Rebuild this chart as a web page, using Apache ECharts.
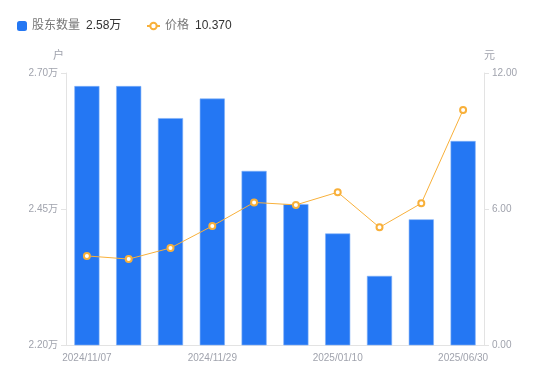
<!DOCTYPE html>
<html><head><meta charset="utf-8">
<script src="https://cdn.jsdelivr.net/npm/echarts@6/dist/echarts.min.js"></script>
<style>html,body{margin:0;padding:0;background:#fff}#c{width:550px;height:381px}</style>
</head><body><div id="c"></div>
<script>
const categories = ['2024/11/07','2024/11/15','2024/11/22','2024/11/29','2024/12/10','2024/12/20','2025/01/10','2025/03/31','2025/04/30','2025/06/30'];
const holders = [2.676, 2.676, 2.617, 2.653, 2.520, 2.459, 2.405, 2.327, 2.431, 2.575];
const prices = [3.93, 3.79, 4.28, 5.25, 6.29, 6.18, 6.74, 5.19, 6.25, 10.37];
const leftTicks = {min: 2.20, max: 2.70, interval: 0.25};
const rightTicks = {min: 0, max: 12, interval: 6};
const legendValues = {'股东数量': '2.58万', '价格': '10.370'};

const font = 'Liberation Sans, Noto Sans CJK SC, sans-serif';
const legendText = {
  rich: {
    n: {color: '#777', fontSize: 12, fontFamily: font},
    v: {color: '#333', fontSize: 12, padding: [0, 0, 0, 6], fontFamily: font}
  }
};
const fmt = n => '{n|' + n + '}{v|' + legendValues[n] + '}';
const chart = echarts.init(document.getElementById('c'));
chart.setOption({
  animation: false,
  textStyle: {fontFamily: font},
  legend: [{
    left: 12, top: 15, itemWidth: 10, itemHeight: 10, itemGap: 5,
    data: [{name: '股东数量', icon: 'roundRect'}],
    itemStyle: {borderWidth: 0},
    formatter: fmt, textStyle: legendText
  }, {
    left: 141, top: 15, itemWidth: 13, itemHeight: 8,
    data: [{name: '价格'}],
    formatter: fmt, textStyle: legendText
  }],
  grid: {left: 66, right: 66, top: 73, bottom: 36},
  xAxis: {
    type: 'category', data: categories,
    axisLine: {lineStyle: {color: '#e3e3e3'}},
    axisTick: {show: false},
    axisLabel: {color: '#a0a3ad', fontSize: 10, interval: 2, margin: 8}
  },
  yAxis: [{
    type: 'value', name: '户', position: 'left',
    min: leftTicks.min, max: leftTicks.max, interval: leftTicks.interval,
    nameTextStyle: {color: '#a0a3ad', fontSize: 11, align: 'right', padding: [0, 2, 0, 0]},
    nameGap: 12,
    axisLine: {show: true, lineStyle: {color: '#e3e3e3'}},
    axisTick: {show: true, length: 5, lineStyle: {color: '#e3e3e3'}},
    splitLine: {show: false},
    axisLabel: {color: '#a0a3ad', fontSize: 10, formatter: v => v.toFixed(2) + '万'}
  }, {
    type: 'value', name: '元', position: 'right',
    min: rightTicks.min, max: rightTicks.max, interval: rightTicks.interval,
    nameTextStyle: {color: '#a0a3ad', fontSize: 11, align: 'left'},
    nameGap: 12,
    axisLine: {show: true, lineStyle: {color: '#e3e3e3'}},
    axisTick: {show: true, length: 5, lineStyle: {color: '#e3e3e3'}},
    splitLine: {show: false},
    axisLabel: {color: '#a0a3ad', fontSize: 10, formatter: v => v.toFixed(2)}
  }],
  series: [{
    name: '股东数量', type: 'bar', data: holders, yAxisIndex: 0,
    barWidth: '60%',
    itemStyle: {color: '#2477f3', borderColor: '#7fb0f8', borderWidth: 0.6}
  }, {
    name: '价格', type: 'line', data: prices, yAxisIndex: 1,
    symbol: 'emptyCircle', symbolSize: 6,
    lineStyle: {color: '#f8b03a', width: 1},
    itemStyle: {color: '#f8b03a', borderWidth: 2}
  }]
});
</script></body></html>
